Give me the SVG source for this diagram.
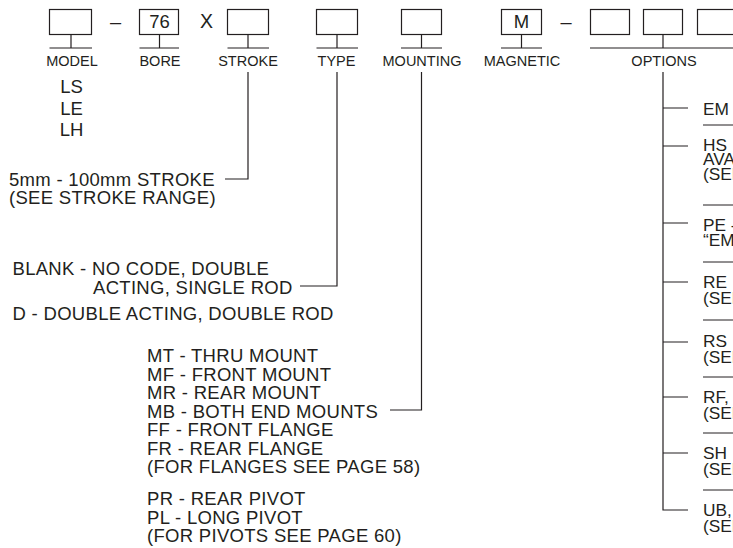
<svg xmlns="http://www.w3.org/2000/svg" width="733" height="548" viewBox="0 0 733 548">
<style>
.box{fill:none;stroke:#231f20;stroke-width:1.2}
.ln{fill:none;stroke:#231f20;stroke-width:1.2}
.sep{fill:none;stroke:#231f20;stroke-width:1}
text{font-family:"Liberation Sans",Arial,Helvetica,sans-serif;fill:#231f20}
.lbl{font-size:14.5px;text-anchor:middle}
.t{font-size:18.5px;letter-spacing:0.3px}
.o{font-size:17.3px}
.c{text-anchor:middle;letter-spacing:0}
.dash{font-size:20px;text-anchor:middle}
</style>
<rect width="733" height="548" fill="#ffffff"/>

<g id="model">
  <rect class="box" x="49.5" y="9.5" width="42" height="25"/>
  <path class="ln" d="M71 34.5V48M49.5 48H92"/>
  <text class="lbl" x="72" y="65.5">MODEL</text>
  <text class="t c" x="71.5" y="93">LS</text>
  <text class="t c" x="71.5" y="114.5">LE</text>
  <text class="t c" x="71.5" y="136">LH</text>
</g>

<text class="dash" x="115.5" y="29.2">–</text>

<g id="bore">
  <rect class="box" x="139.5" y="9.5" width="39" height="25"/>
  <path class="ln" d="M159.5 34.5V48M139.5 48H179"/>
  <text class="t c" x="159.5" y="28">76</text>
  <text class="lbl" x="160" y="65.5">BORE</text>
</g>

<text class="t c" style="font-size:19.5px" x="206.5" y="28">X</text>

<g id="stroke">
  <rect class="box" x="227.5" y="9.5" width="41" height="25"/>
  <path class="ln" d="M248 34.5V48M227.5 48H269"/>
  <text class="lbl" x="248" y="65.5">STROKE</text>
  <text class="t" x="9" y="185.5">5mm - 100mm STROKE</text>
  <text class="t" x="9" y="204">(SEE STROKE RANGE)</text>
</g>

<g id="type">
  <rect class="box" x="316.5" y="9.5" width="41" height="25"/>
  <path class="ln" d="M337 34.5V48M316.5 48H358"/>
  <text class="lbl" x="336.5" y="65.5">TYPE</text>
  <text class="t" x="12.5" y="274.5">BLANK - NO CODE, DOUBLE</text>
  <text class="t" x="93" y="293.5">ACTING, SINGLE ROD</text>
  <text class="t" x="12.5" y="319.5">D - DOUBLE ACTING, DOUBLE ROD</text>
</g>

<g id="mounting">
  <rect class="box" x="401.5" y="9.5" width="40" height="25"/>
  <path class="ln" d="M421.5 34.5V48M401 48H442"/>
  <text class="lbl" x="422" y="65.5">MOUNTING</text>
  <text class="t" x="147" y="362">MT - THRU MOUNT</text>
  <text class="t" x="147" y="380.5">MF - FRONT MOUNT</text>
  <text class="t" x="147" y="399">MR - REAR MOUNT</text>
  <text class="t" x="147" y="417.5">MB - BOTH END MOUNTS</text>
  <text class="t" x="147" y="436">FF - FRONT FLANGE</text>
  <text class="t" x="147" y="454.5">FR - REAR FLANGE</text>
  <text class="t" x="147" y="473">(FOR FLANGES SEE PAGE 58)</text>
  <text class="t" x="147" y="505">PR - REAR PIVOT</text>
  <text class="t" x="147" y="523.5">PL - LONG PIVOT</text>
  <text class="t" x="147" y="542">(FOR PIVOTS SEE PAGE 60)</text>
</g>

<g id="magnetic">
  <rect class="box" x="501.5" y="9.5" width="40" height="25"/>
  <path class="ln" d="M521.5 34.5V48M501 48H542"/>
  <text class="t c" x="521.5" y="28">M</text>
  <text class="lbl" x="522" y="65.5">MAGNETIC</text>
</g>

<text class="dash" x="566" y="28.7">–</text>

<g id="options">
  <rect class="box" x="590.5" y="9.5" width="39" height="25"/>
  <rect class="box" x="643.5" y="9.5" width="39" height="25"/>
  <rect class="box" x="697.5" y="9.5" width="40" height="25"/>
  <path class="ln" d="M663 34.5V48M590 48H733"/>
  <text class="lbl" x="664" y="65.5">OPTIONS</text>
  <path class="sep" d="M703 125H733M703 205H733M703 262H733M703 320H733M703 377H733M703 433H733M703 490H733"/>
  <text class="o" x="703" y="114.5">EM</text>
  <text class="o" x="703" y="150.5">HS</text>
  <text class="o" x="703" y="165">AVA</text>
  <text class="o" x="703" y="179.5">(SEE</text>
  <text class="o" x="703" y="230.5">PE -</text>
  <text class="o" x="703" y="246">“EM</text>
  <text class="o" x="703" y="288">RE</text>
  <text class="o" x="703" y="303.5">(SEE</text>
  <text class="o" x="703" y="347">RS</text>
  <text class="o" x="703" y="362.5">(SEE</text>
  <text class="o" x="703" y="403">RF,</text>
  <text class="o" x="703" y="418.5">(SEE</text>
  <text class="o" x="703" y="459">SH</text>
  <text class="o" x="703" y="474.5">(SEE</text>
  <text class="o" x="703" y="516">UB,</text>
  <text class="o" x="703" y="531.5">(SEE</text>
</g>

<g id="connectors">
  <path class="ln" d="M248 72V179H225"/>
  <path class="ln" d="M337 72V286H300"/>
  <path class="ln" d="M421.5 72V410H390"/>
  <path class="ln" d="M663 72V510H688"/>
  <path class="ln" d="M663 108H688M663 146H688M663 223H688M663 282H688M663 342H688M663 397H688M663 453H688"/>
</g>
</svg>
